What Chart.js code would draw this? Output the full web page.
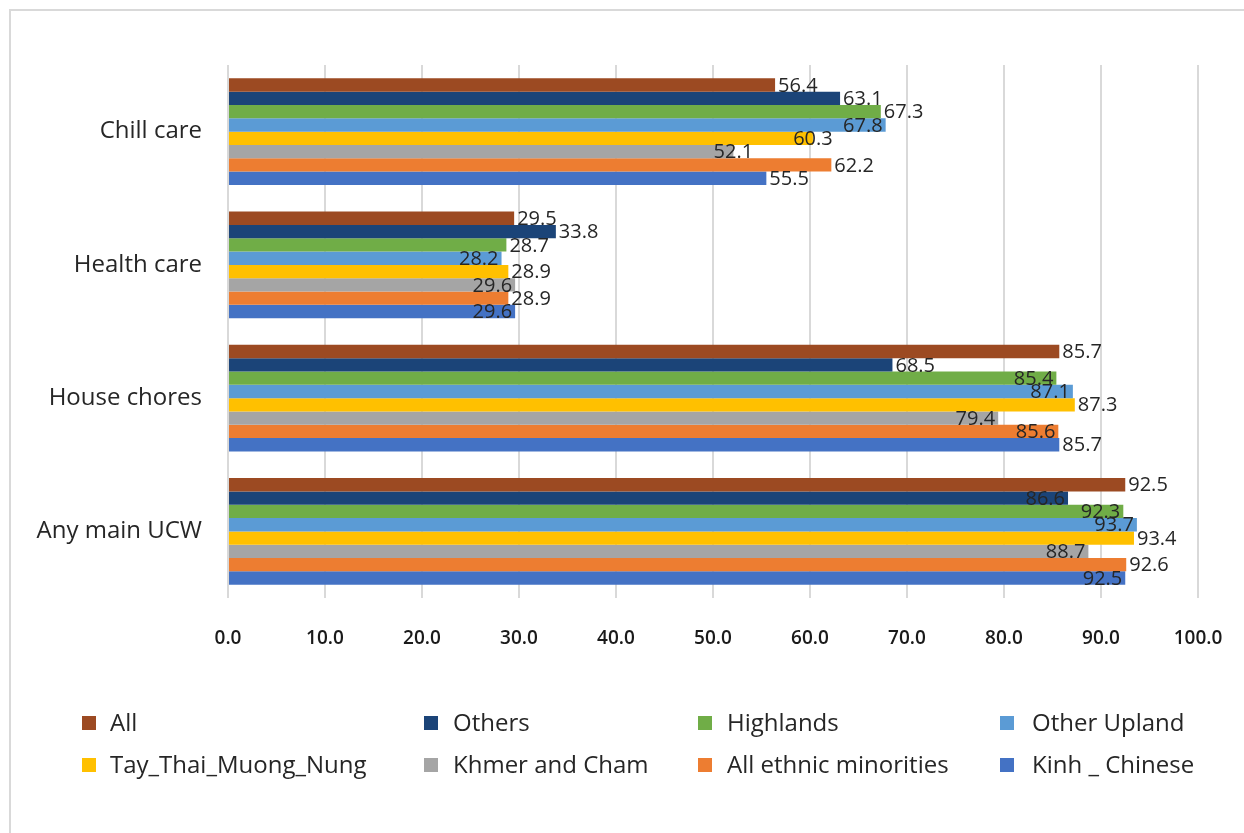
<!DOCTYPE html>
<html>
<head>
<meta charset="utf-8">
<script src="https://cdn.jsdelivr.net/npm/chart.js@4/dist/chart.umd.min.js"></script>
<style>
  html, body { margin: 0; padding: 0; background: #ffffff; }
  #wrap { position: relative; width: 1244px; height: 833px; }
</style>
</head>
<body>
<div id="wrap"><canvas id="chart"></canvas></div>
<script>
// Share of children doing unpaid care work, by group (%)
const categories = ['Chill care', 'Health care', 'House chores', 'Any main UCW'];

const seriesNames = [
  'All', 'Others', 'Highlands', 'Other Upland',
  'Tay_Thai_Muong_Nung', 'Khmer and Cham', 'All ethnic minorities', 'Kinh _ Chinese'
];

const allGroups          = [56.4, 29.5, 85.7, 92.5];
const others             = [63.1, 33.8, 68.5, 86.6];
const highlands          = [67.3, 28.7, 85.4, 92.3];
const otherUpland        = [67.8, 28.2, 87.1, 93.7];
const tayThaiMuongNung   = [60.3, 28.9, 87.3, 93.4];
const khmerCham          = [52.1, 29.6, 79.4, 88.7];
const allEthnicMinority  = [62.2, 28.9, 85.6, 92.6];
const kinhChinese        = [55.5, 29.6, 85.7, 92.5];

const xTicks = [0, 10, 20, 30, 40, 50, 60, 70, 80, 90, 100];

const seriesColors = [
  '#9C4A22', '#1B4478', '#70AD47', '#5B9BD5',
  '#FFC000', '#A5A5A5', '#ED7D31', '#4472C4'
];

// Where each value label sits against its bar end: out = after, in = before, mid = centred
const labelAnchor = [
  ['out', 'out', 'out', 'out'],
  ['out', 'out', 'out', 'in'],
  ['out', 'out', 'in',  'in'],
  ['in',  'in',  'in',  'in'],
  ['mid', 'out', 'out', 'out'],
  ['mid', 'in',  'in',  'in'],
  ['out', 'out', 'in',  'out'],
  ['out', 'in',  'out', 'in']
];

const seriesValues = [
  allGroups, others, highlands, otherUpland,
  tayThaiMuongNung, khmerCham, allEthnicMinority, kinhChinese
];

const FONT = "'Open Sans', 'Noto Sans', sans-serif";
const TEXT = '#262626';

const datasets = seriesNames.map((name, i) => ({
  label: name,
  data: seriesValues[i],
  backgroundColor: seriesColors[i],
  borderWidth: 0,
  categoryPercentage: 0.8,
  barPercentage: 1.0
}));

// Thin frame along the top and left edges
const framePlugin = {
  id: 'frame',
  beforeDraw(chart) {
    const ctx = chart.ctx;
    ctx.save();
    ctx.fillStyle = '#ffffff';
    ctx.fillRect(0, 0, chart.width, chart.height);
    ctx.strokeStyle = '#d9d9d9';
    ctx.lineWidth = 2;
    ctx.beginPath();
    ctx.moveTo(10, chart.height);
    ctx.lineTo(10, 10);
    ctx.lineTo(chart.width, 10);
    ctx.stroke();
    ctx.restore();
  }
};

// Value labels at the bar ends
const valueLabels = {
  id: 'valueLabels',
  afterDatasetsDraw(chart) {
    const ctx = chart.ctx;
    ctx.save();
    ctx.font = '20px ' + FONT;
    ctx.fillStyle = TEXT;
    ctx.textBaseline = 'middle';
    chart.data.datasets.forEach((ds, di) => {
      const meta = chart.getDatasetMeta(di);
      meta.data.forEach((bar, i) => {
        const txt = ds.data[i].toFixed(1);
        const a = labelAnchor[di][i];
        let x = bar.x;
        if (a === 'out') { ctx.textAlign = 'left'; x += 3; }
        else if (a === 'in') { ctx.textAlign = 'right'; x -= 3; }
        else { ctx.textAlign = 'center'; }
        ctx.fillText(txt, x, bar.y + 1);
      });
    });
    ctx.restore();
  }
};

// Legend laid out as a 4 x 2 grid below the axis
const gridLegend = {
  id: 'gridLegend',
  afterDraw(chart) {
    const ctx = chart.ctx;
    const markX = [82, 424, 698, 1000];
    const textX = [110, 453, 727, 1032];
    const rowY = [723, 765];
    ctx.save();
    ctx.font = '24px ' + FONT;
    ctx.textBaseline = 'middle';
    ctx.textAlign = 'left';
    chart.data.datasets.forEach((ds, i) => {
      const c = i % 4;
      const y = rowY[Math.floor(i / 4)];
      ctx.fillStyle = ds.backgroundColor;
      ctx.fillRect(markX[c], y - 7, 14, 14);
      ctx.fillStyle = TEXT;
      ctx.fillText(ds.label, textX[c], y + 1);
    });
    ctx.restore();
  }
};

new Chart(document.getElementById('chart'), {
  type: 'bar',
  data: { labels: categories, datasets },
  options: {
    indexAxis: 'y',
    responsive: true,
    maintainAspectRatio: false,
    animation: false,
    layout: { padding: { top: 65, right: 46, bottom: 150, left: 0 } },
    plugins: {
      legend: { display: false },
      tooltip: { enabled: false }
    },
    scales: {
      x: {
        min: 0,
        max: 100,
        afterBuildTicks(scale) { scale.ticks = xTicks.map(v => ({ value: v })); },
        afterFit(scale) {
          scale.height = 85;
          scale.paddingLeft = 0;
          scale.paddingRight = 0;
        },
        ticks: {
          padding: 29,
          color: '#1a1a1a',
          font: { family: FONT, size: 19, weight: '600' },
          callback: v => Number(v).toFixed(1)
        },
        grid: { color: '#d9d9d9', lineWidth: 2, drawTicks: false },
        border: { display: false }
      },
      y: {
        afterFit(scale) {
          scale.width = 228;
          scale.paddingTop = 0;
          scale.paddingBottom = 0;
        },
        ticks: {
          padding: 26,
          color: TEXT,
          font: { family: FONT, size: 24 }
        },
        grid: { display: false, drawTicks: false },
        border: { display: false }
      }
    }
  },
  plugins: [framePlugin, valueLabels, gridLegend]
});
</script>
</body>
</html>
